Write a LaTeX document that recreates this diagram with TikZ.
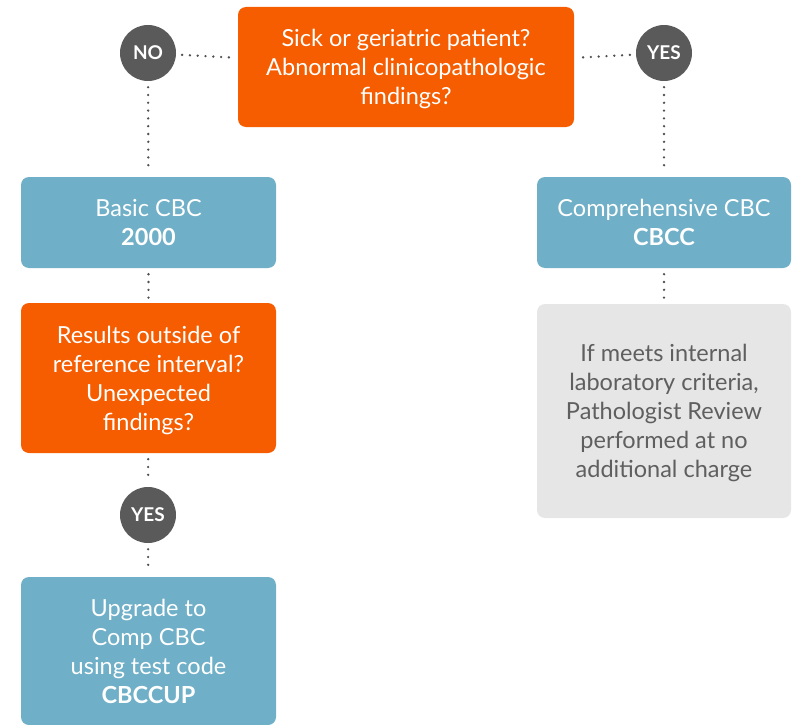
\documentclass[tikz,border=0pt]{standalone}
\usepackage{fontspec}
\setmainfont{Lato}
\definecolor{orng}{HTML}{F55D00}
\definecolor{blu}{HTML}{6FAFC7}
\definecolor{gry}{HTML}{E6E6E6}
\definecolor{circ}{HTML}{5A5A5A}
\definecolor{gtxt}{HTML}{5F5F5F}
\definecolor{dotc}{HTML}{505050}
\begin{document}
\begin{tikzpicture}[x=1pt,y=-1pt,
  box/.style={rectangle,rounded corners=8pt,align=center,text=white,inner sep=0pt,
    font=\fontsize{23.5}{29}\selectfont,text depth=-5pt},
  qbox/.style={box,fill=orng},
  bbox/.style={box,fill=blu},
  gbox/.style={box,fill=gry,text=gtxt},
  ans/.style={circle,fill=circ,text=white,minimum size=56pt,inner sep=0pt,
    font=\fontsize{19}{19}\selectfont\bfseries},
  dotline/.style={draw=dotc,line width=2.6pt,line cap=round,dash pattern=on 0pt off 7.8pt,
    shorten <=6pt,shorten >=5pt}]
\useasboundingbox (0,0) rectangle (801,725);
\node[qbox,minimum width=336pt,minimum height=120pt] (top) at (406,67)
  {Sick or geriatric patient?\\Abnormal clinicopathologic\\findings?};
\node[ans] (no) at (148,53) {NO};
\node[ans] (yes1) at (664,53) {YES};
\node[bbox,minimum width=255pt,minimum height=91pt] (basic) at (148.5,222.5)
  {Basic CBC\\\textbf{2000}};
\node[qbox,minimum width=255pt,minimum height=150pt] (res) at (148.5,378)
  {Results outside of\\reference interval?\\Unexpected\\findings?};
\node[ans] (yes2) at (148,515) {YES};
\node[bbox,minimum width=255pt,minimum height=148pt] (up) at (148.5,651)
  {Upgrade to\\Comp CBC\\using test code\\\textbf{CBCCUP}};
\node[bbox,minimum width=254pt,minimum height=91pt] (comp) at (664,222.5)
  {Comprehensive CBC\\\textbf{CBCC}};
\node[gbox,minimum width=254pt,minimum height=214pt] (rev) at (664,411)
  {If meets internal\\laboratory criteria,\\Pathologist Review\\performed at no\\additional charge};
\draw[dotline] (no) -- (top);
\draw[dotline] (yes1) -- (top);
\draw[dotline] (no) -- (basic);
\draw[dotline] (yes1) -- (comp);
\draw[dotline] (basic) -- (res);
\draw[dotline] (res) -- (yes2);
\draw[dotline] (yes2) -- (up);
\draw[dotline] (comp) -- (rev);
\end{tikzpicture}
\end{document}
